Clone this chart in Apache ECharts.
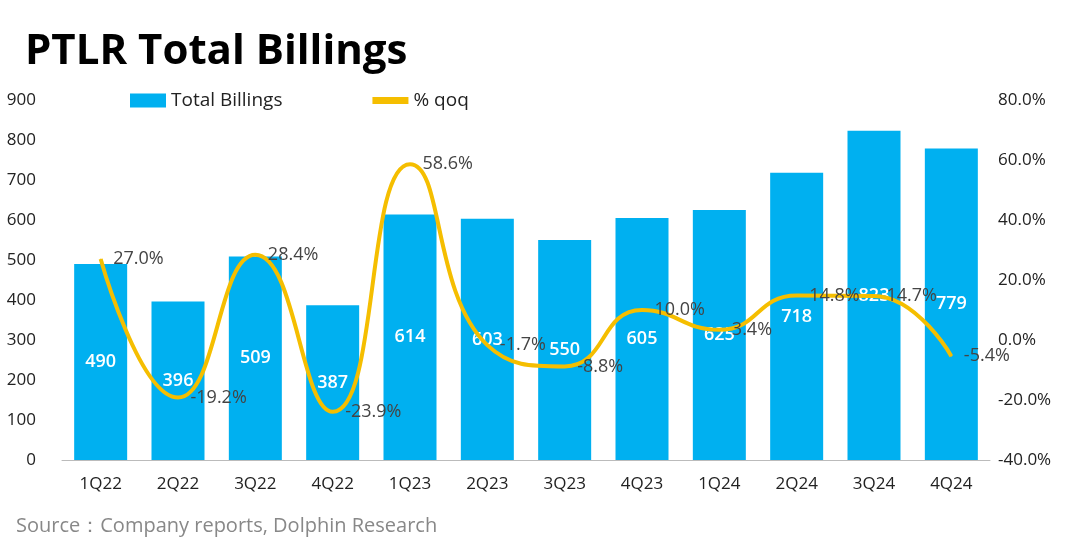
<!DOCTYPE html>
<html style="height: 100%">
<head>
  <meta charset="utf-8">
</head>
<body style="height: 100%; margin: 0; background: #fff">
  <div id="container" style="width: 1080px; height: 548px"></div>
  <script type="text/javascript" src="https://cdn.jsdelivr.net/npm/echarts@6/dist/echarts.min.js"></script>
  <script type="text/javascript">
    var quarters = ['1Q22', '2Q22', '3Q22', '4Q22', '1Q23', '2Q23', '3Q23', '4Q23', '1Q24', '2Q24', '3Q24', '4Q24'];
    var billings = [490, 396, 509, 387, 614, 603, 550, 605, 625, 718, 823, 779];
    var qoq = [27.0, -19.2, 28.4, -23.9, 58.6, -1.7, -8.8, 10.0, 3.4, 14.8, 14.7, -5.4];

    var myChart = echarts.init(document.getElementById('container'));
    var font = '"Open Sans", "Noto Sans", sans-serif';

    var option = {
      animation: false,
      textStyle: { fontFamily: font },
      title: {
        text: 'PTLR Total Billings',
        left: 20, top: 26,
        textStyle: { fontSize: 42, fontWeight: 'bold', color: '#000', fontFamily: font }
      },
      legend: {
        top: 86, left: 125, itemGap: 90,
        textStyle: { fontSize: 19, color: '#222' },
        data: [
          { name: 'Total Billings', icon: 'rect', itemStyle: { color: '#00B0F0' } },
          { name: '% qoq', icon: 'path://M0,0 L10,0 L10,2 L0,2 Z' }
        ],
        itemWidth: 36, itemHeight: 14
      },
      graphic: [{
        type: 'text', left: 16, top: 516,
        style: { text: 'Source：Company reports, Dolphin Research', fontSize: 20, fill: '#888', fontFamily: font }
      }],
      grid: { left: 62, right: 90, top: 100, bottom: 88 },
      xAxis: {
        type: 'category', data: quarters,
        axisTick: { show: false },
        axisLine: { lineStyle: { color: '#bbb' } },
        axisLabel: { fontSize: 17, color: '#222', margin: 16 }
      },
      yAxis: [{
        type: 'value', min: 0, max: 900, interval: 100,
        axisLabel: { fontSize: 17, color: '#222', margin: 26 },
        splitLine: { show: false },
        axisLine: { show: false }
      }, {
        type: 'value', min: -40, max: 80, interval: 20,
        axisLabel: { fontSize: 17, color: '#222', formatter: function (v) { return v.toFixed(1) + '%'; } },
        splitLine: { show: false },
        axisLine: { show: false }
      }],
      series: [{
        name: 'Total Billings', type: 'bar', data: billings, barWidth: 53,
        itemStyle: { color: '#00B0F0' },
        label: { show: true, position: 'inside', color: '#fff', fontSize: 18, fontWeight: 600 }
      }, {
        name: '% qoq', type: 'line', yAxisIndex: 1, data: qoq, smooth: 0.5,
        symbol: 'circle', symbolSize: 1, showSymbol: true,
        lineStyle: { color: '#F5BE00', width: 4 },
        itemStyle: { color: '#F5BE00' },
        label: {
          show: true, position: 'right', distance: 12, color: '#444', fontSize: 18,
          formatter: function (p) { return p.value.toFixed(1) + '%'; }
        }
      }]
    };
    myChart.setOption(option);
  </script>
</body>
</html>
